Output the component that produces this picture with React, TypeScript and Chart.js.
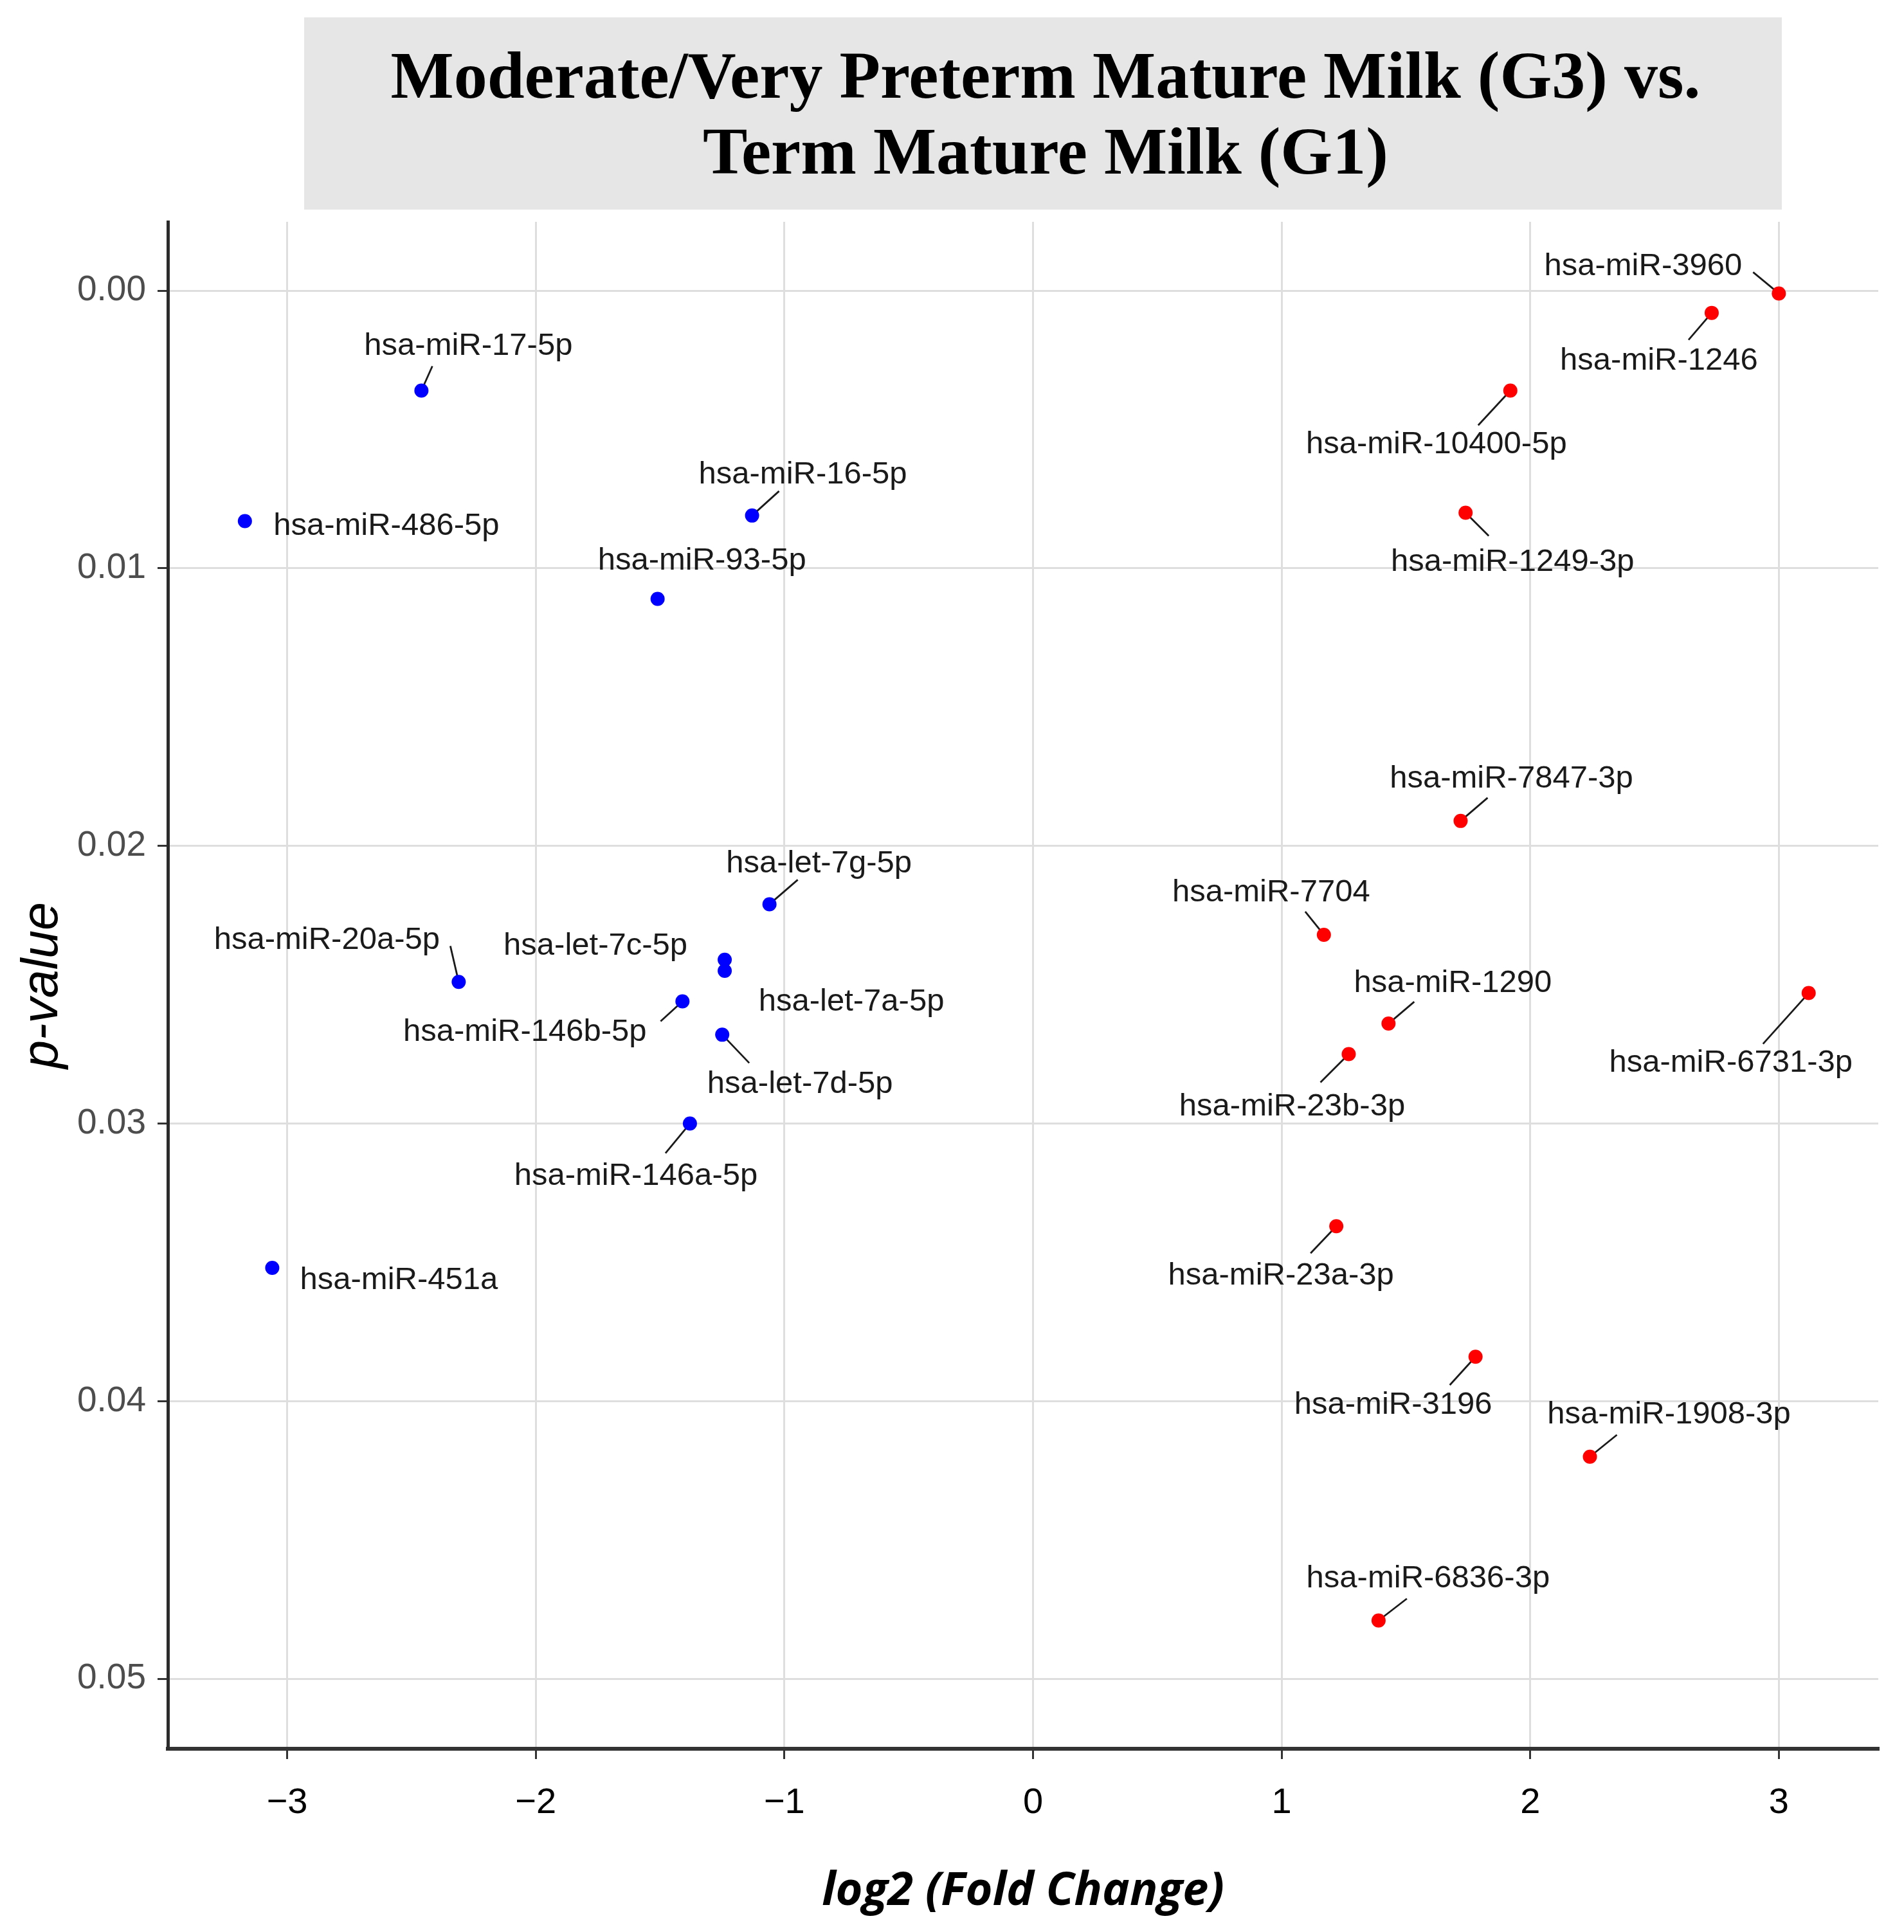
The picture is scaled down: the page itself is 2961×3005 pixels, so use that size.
import React, { useEffect, useRef } from 'react';
import { Chart, registerables } from 'chart.js';

Chart.register(...registerables);

// ---------- data ----------
const titleLines = ['Moderate/Very Preterm Mature Milk (G3) vs.', 'Term Mature Milk (G1)'];
const xAxisTitle = 'log2 (Fold Change)';
const yAxisTitle = 'p-value';

const downNames = [
  'hsa-miR-17-5p', 'hsa-miR-486-5p', 'hsa-miR-16-5p', 'hsa-miR-93-5p', 'hsa-let-7g-5p',
  'hsa-miR-20a-5p', 'hsa-let-7c-5p', 'hsa-let-7a-5p', 'hsa-miR-146b-5p', 'hsa-let-7d-5p',
  'hsa-miR-146a-5p', 'hsa-miR-451a',
];
const downLog2FC = [-2.46, -3.17, -1.13, -1.51, -1.06, -2.31, -1.24, -1.24, -1.41, -1.25, -1.38, -3.06];
const downPValue = [0.0036, 0.0083, 0.0081, 0.0111, 0.0221, 0.0249, 0.0241, 0.0245, 0.0256, 0.0268, 0.0300, 0.0352];

const upNames = [
  'hsa-miR-3960', 'hsa-miR-1246', 'hsa-miR-10400-5p', 'hsa-miR-1249-3p', 'hsa-miR-7847-3p',
  'hsa-miR-7704', 'hsa-miR-1290', 'hsa-miR-6731-3p', 'hsa-miR-23b-3p', 'hsa-miR-23a-3p',
  'hsa-miR-3196', 'hsa-miR-1908-3p', 'hsa-miR-6836-3p',
];
const upLog2FC = [3.0, 2.73, 1.92, 1.74, 1.72, 1.17, 1.43, 3.12, 1.27, 1.22, 1.78, 2.24, 1.39];
const upPValue = [0.0001, 0.0008, 0.0036, 0.0080, 0.0191, 0.0232, 0.0264, 0.0253, 0.0275, 0.0337, 0.0384, 0.0420, 0.0479];

// ---------- label layout: [label dx, label dy, leader end dx, leader end dy] in pixels from the point ----------
const downLabelLayout: [number, number, number, number][] = [
  [73, -69, 17, -38], [220, 8, 0, 0], [79, -63, 42, -38], [69, -59, 0, 0], [77, -63, 44, -38],
  [-205, -65, -13, -56], [-201, -21, 0, 0], [197, 48, 0, 0], [-245, 48, -34, 31], [121, 77, 42, 44],
  [-84, 82, -38, 46], [197, 19, 0, 0],
];
const upLabelLayout: [number, number, number, number][] = [
  [-211, -42, -40, -33], [-82, 75, -36, 42], [-115, 84, -50, 54], [73, 77, 36, 36], [79, -65, 42, -36],
  [-82, -65, -29, -36], [100, -63, 40, -34], [-121, 109, -71, 79], [-88, 82, -44, 44], [-86, 77, -40, 42],
  [-128, 75, -40, 44], [123, -65, 42, -34], [77, -65, 44, -34],
];

const W = 2961;
const H = 3005;
const LABEL_FONT = '49px "Liberation Sans", Arial, sans-serif';

const groups = [
  { names: downNames, x: downLog2FC, y: downPValue, layout: downLabelLayout },
  { names: upNames, x: upLog2FC, y: upPValue, layout: upLabelLayout },
];

function labelItems(chart: any) {
  const xs = chart.scales.x;
  const ys = chart.scales.y;
  const out: any[] = [];
  groups.forEach((g) => {
    g.names.forEach((name, i) => {
      const px = xs.getPixelForValue(g.x[i]);
      const py = ys.getPixelForValue(g.y[i]);
      const [dx, dy, ex, ey] = g.layout[i];
      out.push({ name, px, py, cx: px + dx, cy: py + dy, ex, ey });
    });
  });
  return out;
}

const leaderPlugin = {
  id: 'leaders',
  beforeDatasetsDraw(chart: any) {
    const ctx = chart.ctx;
    ctx.save();
    ctx.strokeStyle = '#1a1a1a';
    ctx.lineWidth = 2.8;
    labelItems(chart).forEach((b) => {
      if (!b.ex && !b.ey) return;
      ctx.beginPath();
      ctx.moveTo(b.px, b.py);
      ctx.lineTo(b.px + b.ex, b.py + b.ey);
      ctx.stroke();
    });
    ctx.restore();
  },
  afterDatasetsDraw(chart: any) {
    const ctx = chart.ctx;
    ctx.save();
    ctx.font = LABEL_FONT;
    ctx.fillStyle = '#1a1a1a';
    ctx.textAlign = 'center';
    ctx.textBaseline = 'middle';
    labelItems(chart).forEach((b) => ctx.fillText(b.name, b.cx, b.cy));
    ctx.restore();
  },
};

const titlePlugin = {
  id: 'titleBox',
  afterDraw(chart: any) {
    const ctx = chart.ctx;
    ctx.save();
    ctx.fillStyle = '#E6E6E6';
    ctx.fillRect(473, 27, 2298, 299);
    ctx.fillStyle = '#000';
    ctx.font = 'bold 104px "Liberation Serif", "Times New Roman", serif';
    ctx.textAlign = 'center';
    ctx.textBaseline = 'alphabetic';
    ctx.fillText(titleLines[0], 1626, 152);
    ctx.fillText(titleLines[1], 1626, 270);
    ctx.restore();
  },
};

export default function App() {
  const ref = useRef<HTMLCanvasElement | null>(null);
  useEffect(() => {
    if (!ref.current) return;
    const gridCommon = {
      color: '#DEDEDE',
      lineWidth: 3,
      tickLength: 16,
      tickColor: '#333333',
      tickWidth: 3,
    };
    const chart = new Chart(ref.current, {
      type: 'scatter',
      data: {
        datasets: [
          {
            label: 'down',
            data: downLog2FC.map((x, i) => ({ x, y: downPValue[i] })),
            pointRadius: 11,
            pointBackgroundColor: '#0000FF',
            pointBorderWidth: 0,
            borderWidth: 0,
          },
          {
            label: 'up',
            data: upLog2FC.map((x, i) => ({ x, y: upPValue[i] })),
            pointRadius: 11,
            pointBackgroundColor: '#FF0000',
            pointBorderWidth: 0,
            borderWidth: 0,
          },
        ],
      },
      options: {
        responsive: false,
        animation: false,
        devicePixelRatio: 1,
        layout: { padding: { left: 0, top: 345, right: 40, bottom: 0 } },
        plugins: {
          legend: { display: false },
          tooltip: { enabled: false },
          title: { display: false },
        },
        scales: {
          x: {
            type: 'linear',
            position: 'bottom',
            min: -3.48,
            max: 3.4,
            afterFit: (s: any) => {
              s.height = 285;
            },
            ticks: {
              stepSize: 1,
              includeBounds: false,
              padding: 35,
              color: '#000',
              font: { family: '"Liberation Sans Narrow", "Liberation Sans", Arial, sans-serif', size: 56 },
              callback: (v: any) => (Number(v) < 0 ? '\u2212' + Math.abs(Number(v)) : String(v)),
            },
            grid: gridCommon,
            border: { color: '#333333', width: 6 },
            title: {
              display: true,
              text: xAxisTitle,
              color: '#000',
              font: { family: '"Open Sans", sans-serif', size: 72, style: 'italic', weight: 'bold', lineHeight: 1 },
              padding: { top: 0, bottom: 27 },
            },
          },
          y: {
            type: 'linear',
            reverse: true,
            min: -0.00248,
            max: 0.05252,
            afterFit: (s: any) => {
              s.width = 261;
            },
            ticks: {
              stepSize: 0.01,
              includeBounds: false,
              padding: 18,
              color: '#4D4D4D',
              font: { family: '"Liberation Sans", Arial, sans-serif', size: 55 },
              callback: (v: any) => Number(v).toFixed(2),
            },
            grid: gridCommon,
            border: { color: '#2b2b2b', width: 5 },
            title: {
              display: true,
              text: yAxisTitle,
              color: '#000',
              font: { family: '"Liberation Sans", Arial, sans-serif', size: 79, style: 'italic', lineHeight: 1 },
              padding: { top: 28, bottom: 0 },
            },
          },
        },
      } as any,
      plugins: [leaderPlugin, titlePlugin],
    });
    return () => chart.destroy();
  }, []);
  return (
    <div style={{ position: 'absolute', left: 0, top: 0, width: W, height: H, background: '#fff' }}>
      <canvas ref={ref} width={W} height={H} style={{ display: 'block', width: W, height: H }} />
    </div>
  );
}
